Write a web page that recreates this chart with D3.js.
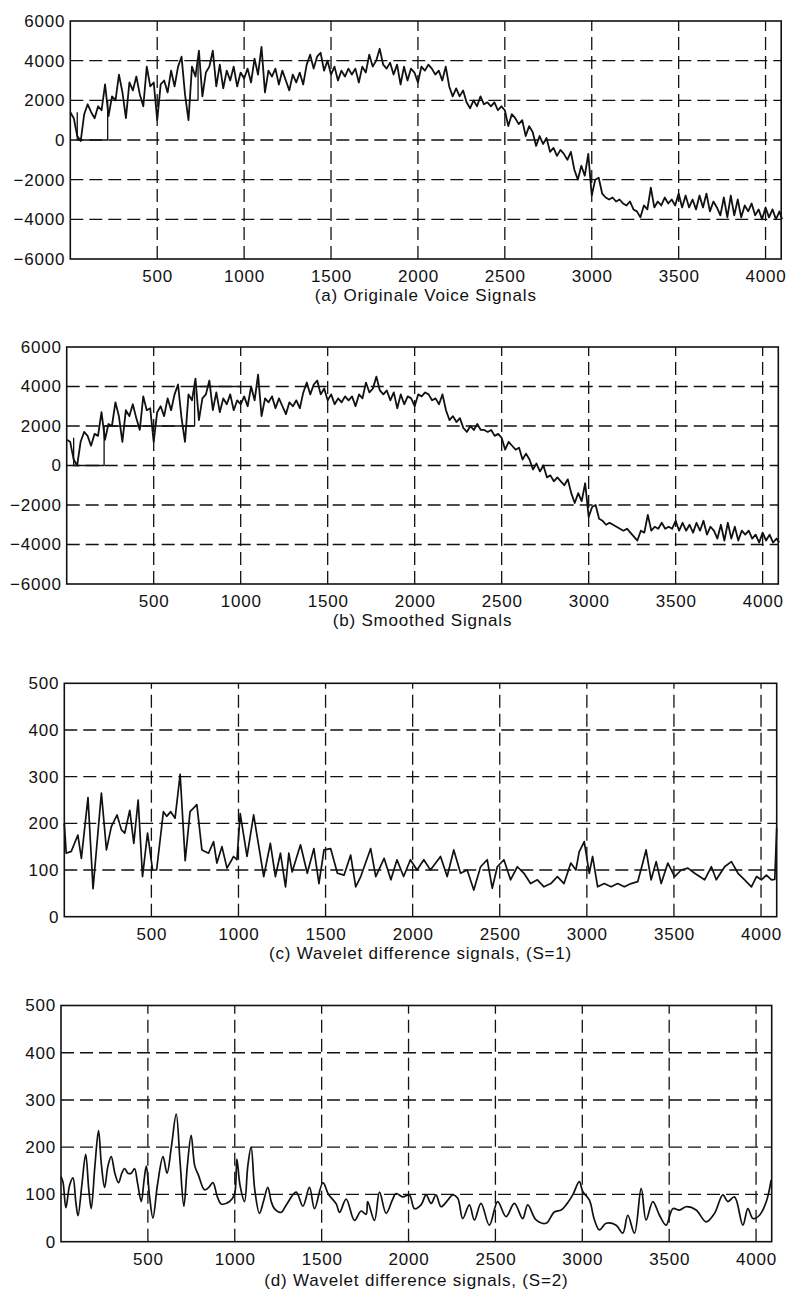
<!DOCTYPE html>
<html>
<head>
<meta charset="utf-8">
<script src="https://cdn.jsdelivr.net/npm/d3@7/dist/d3.min.js"></script>
<style>
  html, body { margin: 0; padding: 0; background: #fff; }
  svg { display: block; }
  text { font-family: "Liberation Sans", Arial, Helvetica, sans-serif; fill: #111; letter-spacing: 0.8px; }
</style>
</head>
<body>
<svg id="chart" width="787" height="1291"></svg>
<script>
// ---- data -------------------------------------------------------------
// voice samples are read every 20 samples, last one at sample 4095
const SAMPLE_STEP = 20;
const LAST_SAMPLE = 4095;

const voiceOriginal = [
  1400, 1100, 200, -50, 1300, 1800, 1400, 1100, 1700, 1500,
  2800, 1200, 2200, 2000, 3300, 2400, 1100, 2900, 2500, 3200,
  2300, 1700, 3700, 2700, 2900, 1000, 2800, 3000, 2400, 3500,
  2700, 3700, 4200, 2300, 1000, 3700, 3200, 4500, 2200, 3400,
  3700, 4500, 2700, 3800, 2600, 3500, 3000, 3700, 2700, 3400,
  3100, 3600, 2900, 4100, 3300, 4700, 2400, 3500, 3200, 3600,
  2800, 3500, 3000, 2500, 3300, 2900, 3400, 2800, 3800, 4300,
  3600, 4200, 4400, 3500, 4000, 3300, 3700, 3000, 3500, 3200,
  3600, 3300, 3600, 2900, 3700, 3400, 4300, 3700, 4000, 4600,
  3800, 3600, 3900, 3300, 3800, 2800, 3700, 3000, 3600, 3400,
  2900, 3700, 3500, 3800, 3600, 3300, 3500, 3000, 3700, 2700,
  2200, 2600, 2200, 2500, 1900, 1600, 2000, 1700, 2200, 1800,
  1900, 1700, 1900, 1500, 1700, 1500, 700, 1300, 1100, 800,
  1000, 200, 700, 400, -300, 200, -200, 100, -600, -400,
  -800, -500, -700, -1000, -600, -1500, -2000, -1300, -1800, -700,
  -2800, -2000, -1900, -2700, -2900, -3000, -2900, -3100, -3000, -3200,
  -3300, -3100, -3500, -3600, -3900, -3300, -3500, -2400, -3400, -3100,
  -3300, -2900, -3200, -3000, -3300, -2700, -3400, -2800, -3400, -3000,
  -3500, -2800, -3400, -2700, -3600, -3100, -3400, -3800, -2900, -3900,
  -2800, -3800, -3000, -3900, -3300, -3600, -3200, -3800, -3500, -4000,
  -3400, -3900, -3500, -4000, -3600,
  -4000
];

const voiceSmoothed = [
  1300, 1200, 300, 0, 1200, 1700, 1500, 1000, 1600, 1500,
  2700, 1300, 2100, 2000, 3200, 2500, 1200, 2800, 2500, 3100,
  2400, 1800, 3500, 2800, 2900, 1200, 2700, 3000, 2500, 3400,
  2800, 3600, 4100, 2400, 1200, 3600, 3300, 4400, 2300, 3400,
  3600, 4300, 2800, 3700, 2700, 3400, 3100, 3600, 2800, 3300,
  3100, 3500, 3000, 4000, 3300, 4600, 2500, 3400, 3200, 3500,
  2900, 3400, 3000, 2600, 3200, 3000, 3300, 2900, 3700, 4200,
  3600, 4100, 4300, 3600, 3900, 3300, 3600, 3100, 3400, 3200,
  3500, 3300, 3500, 3000, 3600, 3400, 4200, 3700, 3900, 4500,
  3800, 3600, 3800, 3300, 3700, 2900, 3600, 3100, 3500, 3400,
  3000, 3600, 3500, 3700, 3600, 3300, 3400, 3100, 3600, 2800,
  2300, 2500, 2200, 2400, 1900, 1700, 2000, 1800, 2100, 1800,
  1800, 1700, 1800, 1500, 1600, 1400, 800, 1200, 1000, 800,
  900, 300, 600, 300, -200, 100, -300, 0, -600, -500,
  -800, -600, -800, -1000, -700, -1400, -1900, -1400, -1800, -900,
  -2600, -2100, -2000, -2700, -2800, -3000, -2900, -3000, -3100, -3200,
  -3300, -3200, -3400, -3600, -3800, -3300, -3400, -2500, -3300, -3100,
  -3200, -2900, -3200, -3100, -3200, -2800, -3300, -2900, -3300, -3000,
  -3400, -2900, -3300, -2800, -3500, -3100, -3300, -3700, -3000, -3800,
  -2900, -3700, -3100, -3800, -3300, -3500, -3300, -3700, -3500, -3900,
  -3400, -3800, -3500, -3900, -3700,
  -3900
];

// coarse staircase traced under the first part of both voice plots
const stairX     = [40, 40, 215, 215, 735, 735, 1000];
const stairLevel = [1400, 0, 0, 2000, 2000, 4000, 4000];

// wavelet difference signals, scale 1
const wav1X = [0, 11, 40, 78, 98, 136, 165, 213, 242, 270, 303, 328, 347, 376, 399, 424, 449, 478, 507, 530,
  569, 588, 611, 636, 665, 694, 722, 761, 790, 828, 857, 876, 905, 934, 972, 991, 1010, 1049, 1087, 1145,
  1183, 1212, 1241, 1270, 1289, 1308, 1356, 1395, 1433, 1462, 1491, 1529, 1568, 1606, 1644, 1673, 1702, 1759, 1788, 1836,
  1875, 1910, 1948, 1987, 2025, 2064, 2102, 2160, 2198, 2236, 2275, 2313, 2351, 2390, 2428, 2457, 2486, 2524, 2562, 2601,
  2639, 2677, 2716, 2754, 2793, 2831, 2869, 2908, 2937, 2956, 2985, 3014, 3033, 3062, 3100, 3139, 3177, 3215, 3254, 3292,
  3321, 3340, 3369, 3398, 3427, 3465, 3504, 3542, 3580, 3619, 3676, 3715, 3743, 3791, 3830, 3868, 3906, 3945, 3974, 4002,
  4031, 4060, 4079, 4090];
const wav1Y = [200, 136, 140, 175, 125, 255, 60, 265, 143, 193, 218, 186, 179, 228, 157, 250, 86, 179, 100, 100,
  225, 215, 225, 211, 305, 120, 225, 240, 143, 136, 161, 115, 150, 104, 129, 122, 221, 129, 218, 86,
  157, 86, 136, 64, 136, 96, 154, 93, 146, 71, 143, 146, 93, 89, 132, 64, 86, 146, 86, 125,
  79, 122, 86, 122, 100, 122, 100, 129, 86, 143, 93, 100, 57, 107, 122, 61, 107, 122, 79, 107,
  93, 71, 79, 64, 71, 86, 71, 115, 100, 139, 161, 93, 129, 64, 71, 64, 71, 64, 71, 75,
  115, 143, 79, 118, 71, 115, 86, 100, 104, 93, 79, 107, 79, 107, 118, 93, 79, 64, 86, 79,
  89, 79, 80, 190];

// wavelet difference signals, scale 2
const wav2X = [0, 12, 28, 50, 69, 85, 98, 120, 142, 160, 174, 195, 216, 232, 251, 270, 289, 310, 331, 350,
  366, 385, 404, 423, 440, 462, 478, 491, 510, 529, 555, 587, 610, 635, 663, 685, 707, 727, 749, 770,
  792, 826, 850, 874, 900, 922, 970, 998, 1012, 1030, 1056, 1075, 1094, 1115, 1142, 1165, 1190, 1210, 1228, 1266,
  1300, 1353, 1392, 1430, 1459, 1507, 1540, 1584, 1603, 1641, 1689, 1727, 1756, 1765, 1804, 1833, 1871, 1909, 1928, 1967,
  2005, 2034, 2072, 2101, 2130, 2158, 2187, 2226, 2254, 2283, 2312, 2350, 2379, 2417, 2465, 2513, 2561, 2609, 2657, 2686,
  2734, 2791, 2839, 2878, 2907, 2945, 2983, 3003, 3041, 3070, 3099, 3137, 3195, 3233, 3262, 3300, 3339, 3367, 3406, 3444,
  3482, 3521, 3559, 3598, 3655, 3713, 3761, 3809, 3838, 3876, 3924, 3953, 3982, 4020, 4059, 4087];
const wav2Y = [138, 125, 72, 120, 135, 85, 55, 120, 185, 110, 70, 160, 235, 165, 115, 160, 180, 145, 125, 145,
  155, 145, 145, 155, 125, 85, 130, 160, 95, 50, 120, 180, 145, 200, 270, 170, 75, 160, 225, 160,
  140, 110, 115, 125, 95, 80, 85, 100, 175, 120, 85, 160, 200, 110, 60, 85, 115, 85, 70, 62,
  80, 105, 75, 115, 70, 125, 100, 80, 62, 90, 45, 65, 58, 85, 45, 105, 60, 90, 102, 95,
  99, 70, 78, 99, 81, 99, 74, 88, 99, 92, 49, 78, 46, 81, 35, 85, 53, 81, 49, 78,
  46, 39, 63, 67, 78, 99, 127, 106, 88, 46, 25, 39, 35, 18, 56, 18, 113, 46, 85, 56,
  35, 70, 67, 74, 67, 42, 60, 99, 85, 95, 35, 70, 49, 56, 85, 131];

const xTicks = [500, 1000, 1500, 2000, 2500, 3000, 3500, 4000];
const voiceTicks = [-6000, -4000, -2000, 0, 2000, 4000, 6000];
const wavTicks = [0, 100, 200, 300, 400, 500];

const captions = [
  "(a) Originale Voice Signals",
  "(b) Smoothed Signals",
  "(c) Wavelet difference signals, (S=1)",
  "(d) Wavelet difference signals, (S=2)"
];

// ---- layout -----------------------------------------------------------
const X_MAX = 4090;
const FONT = "17px";
const voiceIdx = d3.range(0, LAST_SAMPLE - 14, SAMPLE_STEP).concat([LAST_SAMPLE]);

const panels = [
  { left: 70.3, right: 781.2, top: 21,    bottom: 259,    yDomain: [-6000, 6000], ticks: voiceTicks,
    series: [{ x: voiceIdx, y: voiceOriginal, curve: d3.curveLinear, w: 1.8 },
             { x: stairX, y: stairLevel, curve: d3.curveLinear, w: 1.3 }],
    caption: captions[0], capGap: 42 },
  { left: 66.7, right: 778.3, top: 347,   bottom: 584,    yDomain: [-6000, 6000], ticks: voiceTicks,
    series: [{ x: voiceIdx, y: voiceSmoothed, curve: d3.curveLinear, w: 1.8 },
             { x: stairX, y: stairLevel, curve: d3.curveLinear, w: 1.3 }],
    caption: captions[1], capGap: 42 },
  { left: 64.3, right: 776.7, top: 683.3, bottom: 916.7,  yDomain: [0, 500], ticks: wavTicks,
    series: [{ x: wav1X, y: wav1Y, curve: d3.curveLinear, w: 1.7 }],
    caption: captions[2], capGap: 42 },
  { left: 61,   right: 771.7, top: 1005.5, bottom: 1241.7, yDomain: [0, 500], ticks: wavTicks,
    series: [{ x: wav2X, y: wav2Y, curve: d3.curveCatmullRom.alpha(0.5), w: 1.7 }],
    caption: captions[3], capGap: 44 }
];

const svg = d3.select("#chart");
svg.append("rect").attr("width", 787).attr("height", 1291).attr("fill", "#fff");

panels.forEach(p => {
  const w = p.right - p.left, h = p.bottom - p.top;
  const x = d3.scaleLinear().domain([0, X_MAX]).range([p.left, p.right]);
  const y = d3.scaleLinear().domain(p.yDomain).range([p.bottom, p.top]);
  const g = svg.append("g");

  // dashed grid
  const inner = p.ticks.filter(t => t > p.yDomain[0] && t < p.yDomain[1]);
  g.append("g").selectAll("line").data(inner).join("line")
    .attr("x1", p.left).attr("x2", p.right)
    .attr("y1", d => y(d)).attr("y2", d => y(d))
    .attr("stroke", "#111").attr("stroke-width", 1.3).attr("stroke-dasharray", "13,6");
  g.append("g").selectAll("line").data(xTicks).join("line")
    .attr("x1", d => x(d)).attr("x2", d => x(d))
    .attr("y1", p.bottom).attr("y2", p.top)
    .attr("stroke", "#111").attr("stroke-width", 1.3).attr("stroke-dasharray", "13,6");

  // axes (labels only, the frame is drawn separately)
  const yAxis = d3.axisLeft(y).tickValues(p.ticks).tickSize(0).tickPadding(5)
    .tickFormat(d => d < 0 ? "\u2212" + Math.abs(d) : String(d));
  g.append("g").attr("transform", `translate(${p.left},0)`).call(yAxis)
    .call(s => s.select(".domain").remove())
    .selectAll("text").style("font-size", FONT).attr("fill", "#111");
  const xAxis = d3.axisBottom(x).tickValues(xTicks).tickSize(0).tickPadding(11)
    .tickFormat(d3.format("d"));
  g.append("g").attr("transform", `translate(0,${p.bottom})`).call(xAxis)
    .call(s => s.select(".domain").remove())
    .selectAll("text").style("font-size", FONT).attr("fill", "#111");

  // traces
  p.series.forEach(s => {
    const pts = s.x.map((xv, i) => [xv, s.y[i]]);
    const line = d3.line().x(d => x(d[0])).y(d => y(d[1])).curve(s.curve);
    g.append("path").datum(pts)
      .attr("d", line)
      .attr("fill", "none").attr("stroke", "#111")
      .attr("stroke-width", s.w).attr("stroke-linejoin", "round");
  });

  // frame
  g.append("rect").attr("x", p.left).attr("y", p.top).attr("width", w).attr("height", h)
    .attr("fill", "none").attr("stroke", "#111").attr("stroke-width", 1.6);

  // caption
  g.append("text").attr("x", (p.left + p.right) / 2).attr("y", p.bottom + p.capGap)
    .attr("text-anchor", "middle").style("font-size", FONT).text(p.caption);
});
</script>
</body>
</html>
